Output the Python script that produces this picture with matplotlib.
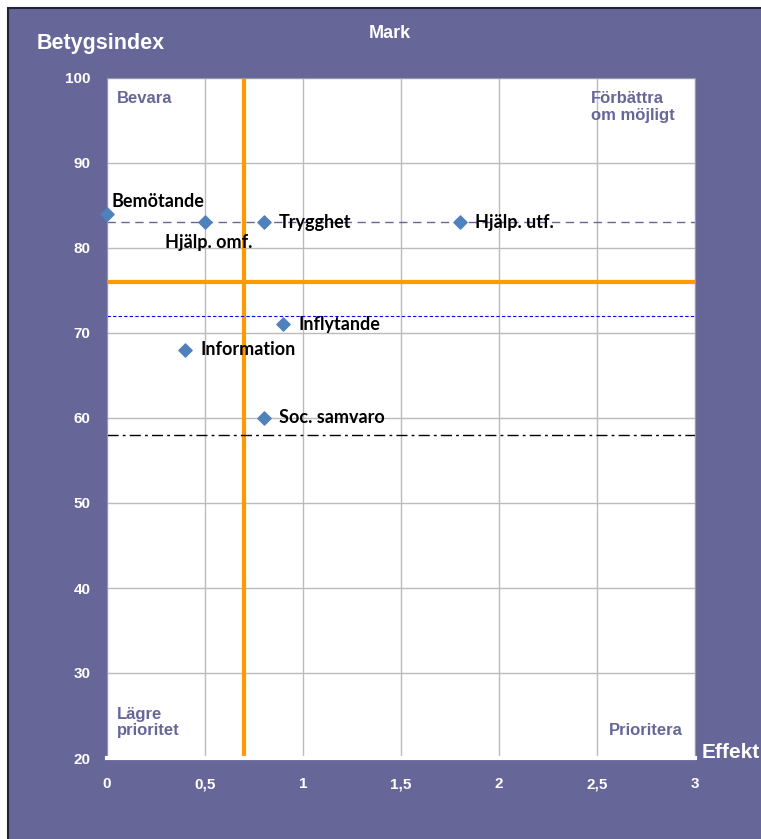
import matplotlib.pyplot as plt
from matplotlib.patches import Rectangle

# Data
labels = ["Bemötande", "Hjälp. omf.", "Trygghet", "Hjälp. utf.", "Inflytande", "Information", "Soc. samvaro"]
effekt = [0.0, 0.5, 0.8, 1.8, 0.9, 0.4, 0.8]
betyg = [84, 83, 83, 83, 71, 68, 60]

x_ticks = [0, 0.5, 1, 1.5, 2, 2.5, 3]
x_ticklabels = ["0", "0,5", "1", "1,5", "2", "2,5", "3"]
y_ticks = [20, 30, 40, 50, 60, 70, 80, 90, 100]

orange_x = 0.7
orange_y = 76
purple_dash_y = 83
blue_dash_y = 72
black_dashdot_y = 58

panel = "#666699"
narrow = ["Liberation Sans Narrow", "Liberation Sans", "DejaVu Sans"]

fig = plt.figure(figsize=(7.61, 8.39), dpi=100)
fig.patch.set_facecolor("white")
bg = Rectangle((8 / 761, -0.01), 1.0, 1 - 8 / 839 + 0.01, transform=fig.transFigure,
               facecolor=panel, edgecolor="#222233", linewidth=1.5, zorder=-10)
fig.patches.append(bg)

ax = fig.add_axes([107 / 761, 1 - 758 / 839, 588 / 761, 680 / 839])
ax.set_zorder(5)
ax.set_facecolor("white")
ax.set_xlim(0, 3)
ax.set_ylim(20, 100)
ax.set_xticks(x_ticks)
ax.set_xticklabels(x_ticklabels)
ax.set_yticks(y_ticks)
ax.grid(True, color="#bbbbbb", linewidth=1)
ax.set_axisbelow(True)
ax.tick_params(axis="x", length=0, colors="white", pad=14)
ax.tick_params(axis="y", length=0, colors="white", pad=12)
for t in ax.get_xticklabels() + ax.get_yticklabels():
    t.set_fontweight("bold")
    t.set_fontfamily(narrow)
    t.set_fontsize(11)
for s in ["top", "right", "left"]:
    ax.spines[s].set_color("#999999")
ax.spines["bottom"].set_color("white")
ax.spines["bottom"].set_linewidth(3)

# Reference lines
ax.axvline(orange_x, color="#FF9900", linewidth=3, zorder=2)
ax.axhline(orange_y, color="#FF9900", linewidth=3, zorder=2)
ax.axhline(purple_dash_y, color="#666699", linewidth=1, dashes=(6, 4), zorder=2)
ax.axhline(blue_dash_y, color="#0000FF", linewidth=0.8, dashes=(3, 2), zorder=2)
ax.axhline(black_dashdot_y, color="black", linewidth=1, dashes=(8, 3, 2, 3), zorder=2)

ax.scatter(effekt, betyg, marker="D", s=45, color="#4F81BD", zorder=4, clip_on=False)

label_font = dict(fontsize=13, fontweight="bold", family="Lato", color="black", zorder=5)
for name, x, y in zip(labels, effekt, betyg):
    if name == "Bemötande":
        ax.annotate(name, (x, y), xytext=(3, 3), textcoords="offset points", ha="left", va="bottom", **label_font)
    elif name == "Hjälp. omf.":
        ax.annotate(name, (x, y), xytext=(-29, -8), textcoords="offset points", ha="left", va="top", **label_font)
    else:
        ax.annotate(name, (x, y), xytext=(11, 0), textcoords="offset points", ha="left", va="center", **label_font)

quad_font = dict(fontsize=12, fontweight="bold", family=narrow, color=panel)
ax.text(0.05, 98.5, "Bevara", ha="left", va="top", **quad_font)
ax.text(2.47, 98.5, "Förbättra\nom möjligt", ha="left", va="top", linespacing=1.15, **quad_font)
ax.text(0.05, 22.3, "Lägre\nprioritet", ha="left", va="bottom", linespacing=1.15, **quad_font)
ax.text(2.94, 22.3, "Prioritera", ha="right", va="bottom", **quad_font)

title_font = dict(color="white", fontweight="bold", family=narrow)
fig.text(37 / 761, 1 - 43 / 839, "Betygsindex", ha="left", va="center", fontsize=15.5, **title_font)
fig.text(390 / 761, 1 - 33 / 839, "Mark", ha="center", va="center", fontsize=13, **title_font)
fig.text(702 / 761, 1 - 752 / 839, "Effekt", ha="left", va="center", fontsize=15, **title_font)

fig.savefig("out.png", dpi=100, facecolor=fig.get_facecolor())
